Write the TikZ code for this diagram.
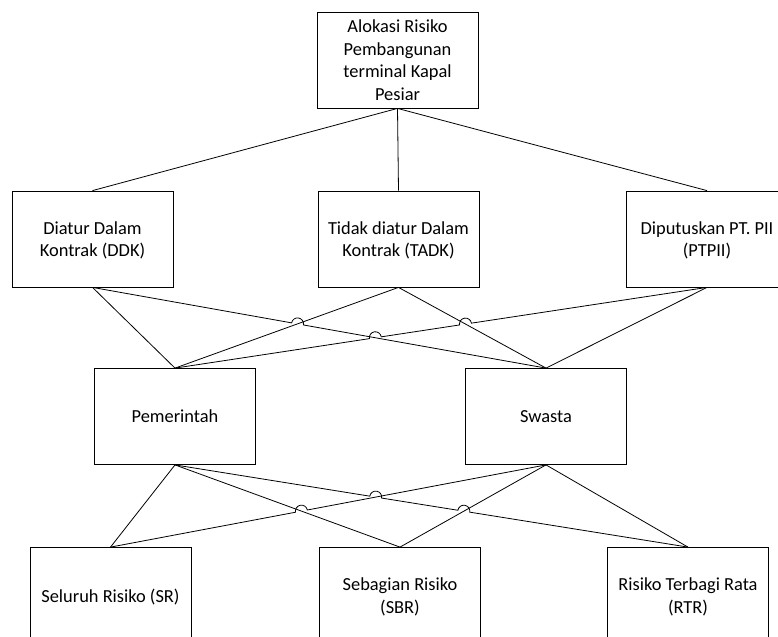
\documentclass[tikz,border=0pt]{standalone}
\usepackage{fontspec}
\setmainfont{Carlito}
\usetikzlibrary{calc}
\newcommand\hoprad{4.5pt}

\begin{document}
\begin{tikzpicture}[x=0.75pt,y=-0.75pt,every node/.style={font=\fontsize{13.8}{16.85}\selectfont},
  box/.style={draw,fill=white,line width=.6pt,minimum width=120.75pt,minimum height=72pt,align=center,inner sep=0pt,text depth=0pt},
  link/.style={line width=.6pt}]
\useasboundingbox (0,0) rectangle (778,636);
\clip (0,0) rectangle (778,636);
% boxes
\node[box] (top) at (397.5,60) {Alokasi Risiko\\Pembangunan\\terminal Kapal\\Pesiar};
\node[box] (ddk) at (92.5,239) {Diatur Dalam\\Kontrak (DDK)};
\node[box] (tadk) at (398.5,239) {Tidak diatur Dalam\\Kontrak (TADK)};
\node[box] (ptpii) at (707,239) {Diputuskan PT. PII\\(PTPII)};
\node[box] (pem) at (175,416.5) {Pemerintah};
\node[box] (swa) at (546,416.5) {Swasta};
\node[box] (sr) at (110.5,595.5) {Seluruh Risiko (SR)};
\node[box] (sbr) at (400,595.5) {Sebagian Risiko\\(SBR)};
\node[box] (rtr) at (688,595.5) {Risiko Terbagi Rata\\(RTR)};
% crossings
\coordinate (c1) at (intersection of ddk.south--swa.north and tadk.south--pem.north);
\coordinate (c2) at (intersection of ddk.south--swa.north and ptpii.south--pem.north);
\coordinate (c3) at (intersection of tadk.south--swa.north and ptpii.south--pem.north);
\coordinate (d1) at (intersection of swa.south--sr.north and pem.south--sbr.north);
\coordinate (d2) at (intersection of swa.south--sr.north and pem.south--rtr.north);
\coordinate (d3) at (intersection of swa.south--sbr.north and pem.south--rtr.north);
% top level
\draw[link] (top.south)--(ddk.north);
\draw[link] (top.south)--(tadk.north);
\draw[link] (top.south)--(ptpii.north);
% second level
\draw[link](ddk.south)--(pem.north);
\draw[link](tadk.south)--(pem.north);
\draw[link](tadk.south)--(swa.north);
\draw[link](ptpii.south)--(swa.north);
\draw[link] let \p1=($(swa.north)-(ddk.south)$), \n1={atan2(\y1,\x1)} in
  (ddk.south) -- ($(c1)!\hoprad!(ddk.south)$) arc[start angle=\n1+180,end angle=\n1,radius=\hoprad] -- (swa.north);
\draw[link] let \p1=($(ptpii.south)-(pem.north)$), \n1={atan2(\y1,\x1)} in
  (pem.north) -- ($(c2)!\hoprad!(pem.north)$) arc[start angle=\n1+180,end angle=\n1,radius=\hoprad]
  -- ($(c3)!\hoprad!(pem.north)$) arc[start angle=\n1+180,end angle=\n1,radius=\hoprad] -- (ptpii.south);
% third level
\draw[link](pem.south)--(sr.north);
\draw[link](pem.south)--(sbr.north);
\draw[link](swa.south)--(sbr.north);
\draw[link](swa.south)--(rtr.north);
\draw[link] let \p1=($(swa.south)-(sr.north)$), \n1={atan2(\y1,\x1)} in
  (sr.north) -- ($(d1)!\hoprad!(sr.north)$) arc[start angle=\n1+180,end angle=\n1,radius=\hoprad] -- (swa.south);
\draw[link] let \p1=($(rtr.north)-(pem.south)$), \n1={atan2(\y1,\x1)} in
  (pem.south) -- ($(d2)!\hoprad!(pem.south)$) arc[start angle=\n1+180,end angle=\n1,radius=\hoprad]
  -- ($(d3)!\hoprad!(pem.south)$) arc[start angle=\n1+180,end angle=\n1,radius=\hoprad] -- (rtr.north);
\end{tikzpicture}
\end{document}
